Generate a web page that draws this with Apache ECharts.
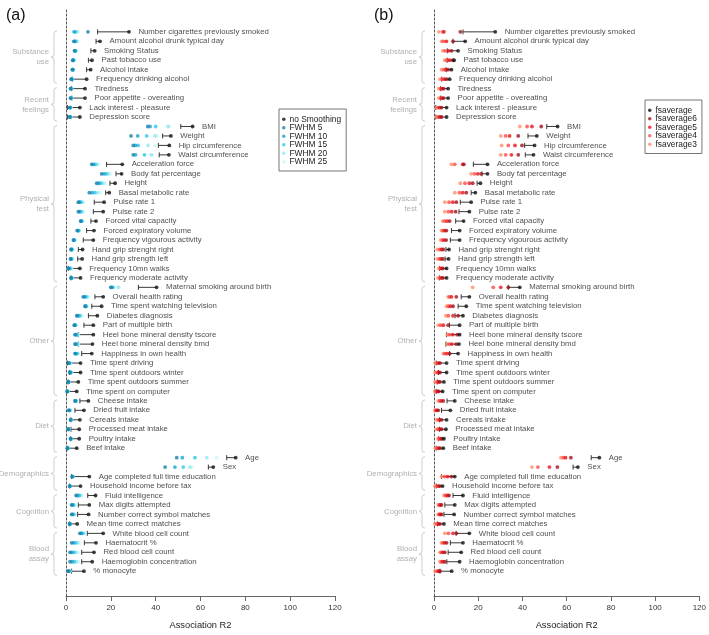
<!DOCTYPE html>
<html><head><meta charset="utf-8">
<script src="https://cdn.jsdelivr.net/npm/echarts@6/dist/echarts.min.js"></script>
<style>html,body{margin:0;padding:0;background:#fff}#c{width:709px;height:635px}</style>
</head><body><div id="c"></div>
<script>
const rowNames = [
'Number cigarettes previously smoked','Amount alcohol drunk typical day','Smoking Status','Past tobacco use','Alcohol intake','Frequency drinking alcohol',
'Tiredness','Poor appetite - overeating','Lack interest - pleasure','Depression score',
'BMI','Weight','Hip circumference','Waist circumference','Acceleration force','Body fat percentage','Height','Basal metabolic rate','Pulse rate 1','Pulse rate 2','Forced vital capacity','Forced expiratory volume','Frequency vigourous activity','Hand grip strenght right','Hand grip strength left','Frequency 10mn walks','Frequency moderate activity',
'Maternal smoking around birth','Overall health rating','Time spent watching television','Diabetes diagnosis','Part of multiple birth','Heel bone mineral density tscore','Heel bone mineral density bmd','Happiness in own health','Time spent driving','Time spent outdoors winter','Time spent outdoors summer','Time spent on computer',
'Cheese intake','Dried fruit intake','Cereals intake','Processed meat intake','Poultry intake','Beef intake',
'Age','Sex','Age completed full time education','Household income before tax',
'Fluid intelligence','Max digits attempted','Number correct symbol matches','Mean time correct matches',
'White blood cell count','Haematocrit %','Red blood cell count','Haemoglobin concentration','% monocyte'];

const groupNames = ['Substance\nuse','Recent\nfeelings','Physical\ntest','Other','Diet','Demographics','Cognition','Blood\nassay'];
const groupSizes = [6,4,17,12,6,4,4,5];

const xTicks = [0,20,40,60,80,100,120];

// Panel (a)
const noSmoothing = [28.1,15.2,12.8,11.6,11.0,9.2,8.5,8.5,6.2,6.2,
 56.5,46.8,46.1,45.9,25.1,24.8,21.9,19.3,17.0,16.6,13.4,12.5,12.2,7.4,7.2,6.2,6.5,
 40.4,16.6,15.9,14.0,12.2,12.2,11.8,11.5,6.5,6.5,5.5,4.8,
 10.0,8.0,6.2,5.9,5.9,4.8,
 75.7,65.7,10.4,6.5,
 13.2,10.4,10.1,5.0,
 16.6,13.4,12.5,11.7,8.0];
const errLowA = [14.1,13.4,11.1,10.0,9.2,2.8,2.5,2.6,0.6,0.6,
 51.2,43.1,41.2,41.6,18.1,22.3,19.6,17.7,12.6,12.2,11.1,9.2,7.7,5.5,5.2,1.0,2.2,
 32.3,12.9,11.5,10.0,8.0,5.5,5.5,7.0,0.6,1.5,1.0,0.4,
 6.2,4.0,2.2,2.2,2.0,0.6,
 71.7,63.5,2.5,1.5,
 9.7,5.5,5.2,1.5,
 9.5,8.2,7.0,7.0,2.5];
const fwhm5 = [9.8,3.5,3.8,3.0,2.8,2.3,2.0,2.0,1.6,1.6,
 36.5,29.0,30.0,30.0,11.5,15.9,13.7,10.4,5.5,5.5,6.5,5.0,3.3,2.2,2.0,1.0,2.2,
 20.0,7.7,8.5,4.8,3.7,4.0,4.0,4.0,1.2,1.7,1.0,0.5,
 4.0,1.2,2.0,1.0,2.0,0.6,
 49.4,44.2,2.7,1.6,
 4.5,2.5,2.5,1.6,
 6.2,2.5,1.8,1.8,1.0];
const fwhm10 = [3.6,3.9,4.0,3.2,3.0,2.5,2.2,2.2,1.8,1.8,
 37.5,32.0,31.0,31.0,12.2,17.0,14.6,11.6,6.0,6.0,6.8,5.3,3.5,2.4,2.2,1.4,2.4,
 20.4,8.3,8.7,5.3,3.9,4.4,4.4,4.4,1.4,1.9,1.1,0.6,
 4.2,1.4,2.1,1.1,2.1,0.7,
 51.9,48.6,2.9,1.7,
 5.2,2.9,2.9,1.7,
 6.8,3.4,2.6,2.7,1.2];
const fwhm15 = [4.2,4.3,4.2,3.3,3.1,2.6,2.3,2.3,1.9,1.9,
 40.0,36.0,32.2,35.0,13.0,18.0,15.5,12.8,6.6,6.6,7.0,5.6,3.7,2.6,2.4,1.8,2.5,
 21.0,8.9,8.9,6.0,4.1,4.8,4.8,4.8,1.6,2.1,1.2,0.7,
 4.4,1.6,2.2,1.2,2.2,0.8,
 57.5,52.3,3.0,1.8,
 5.9,3.3,3.3,1.8,
 7.4,4.3,3.5,3.7,1.4];
const fwhm20 = [4.8,4.7,4.4,3.5,3.2,2.7,2.4,2.4,2.0,2.0,
 45.5,39.7,36.6,38.0,13.8,18.9,16.5,14.0,7.2,7.2,7.2,5.8,3.9,2.8,2.6,2.2,2.6,
 23.3,9.5,9.1,6.5,4.3,5.2,5.2,5.2,1.8,2.3,1.3,0.8,
 4.6,1.8,2.3,1.3,2.3,0.9,
 62.8,55.3,3.1,1.9,
 6.5,3.7,3.7,1.9,
 8.0,5.2,4.4,4.7,1.6];
const fwhm25 = [5.4,5.0,4.6,3.6,3.3,2.8,2.5,2.5,2.1,2.1,
 46.0,40.5,39.7,38.5,14.4,19.6,17.4,15.2,7.7,7.7,7.3,6.0,4.0,3.0,2.8,2.5,2.7,
 23.5,10.0,9.3,7.0,4.5,5.5,5.5,5.5,2.0,2.5,1.4,0.9,
 4.8,2.0,2.4,1.4,2.4,1.0,
 67.2,56.0,3.2,2.0,
 7.0,4.0,4.0,2.0,
 8.5,5.9,5.2,5.6,1.8];

// Panel (b)
const fsaverage = [27.7,14.1,10.9,9.1,7.9,7.1,6.4,6.4,5.7,5.7,
 55.9,46.5,45.5,45.0,24.2,24.2,21.0,18.7,16.8,16.0,13.4,11.6,11.6,6.8,6.6,5.7,5.7,
 38.8,16.0,14.6,13.1,11.6,11.6,11.3,10.9,5.7,5.7,4.5,3.9,
 9.4,7.4,5.7,5.4,4.5,4.2,
 74.8,65.1,9.4,3.9,
 13.1,9.4,9.1,4.5,
 16.0,13.1,12.3,11.6,8.0];
const errLowB = [13.1,8.6,6.0,6.0,5.5,3.5,3.0,3.0,0.8,0.8,
 51.0,42.5,41.0,41.3,17.8,21.7,19.5,16.8,11.9,11.3,9.8,7.9,7.4,5.4,5.0,2.5,2.5,
 33.6,12.3,10.9,9.5,7.0,5.7,5.4,7.0,1.0,2.0,1.5,1.0,
 5.9,3.4,2.5,2.5,2.0,1.0,
 71.1,62.9,3.4,1.0,
 8.6,4.9,4.5,1.5,
 10.0,7.4,6.4,5.8,2.7];
const fsaverage6 = [11.9,8.6,7.9,8.5,6.4,5.7,4.3,4.3,3.4,3.4,
 48.5,38.1,39.8,38.1,13.5,21.3,17.5,14.6,10.1,9.8,7.1,5.6,5.5,4.2,4.0,4.0,4.0,
 33.6,10.1,8.6,10.9,6.4,10.5,10.0,7.1,2.7,2.7,2.7,2.2,
 4.2,1.9,3.4,3.4,3.7,2.7,
 61.9,55.8,7.9,2.7,
 6.8,3.4,3.4,2.7,
 10.1,5.7,4.9,4.9,2.7];
const fsaverage5 = [4.5,5.6,6.5,7.0,5.4,4.7,3.6,3.6,2.6,2.6,
 44.3,34.2,36.6,35.0,13.0,19.8,16.0,13.0,8.5,8.0,5.9,4.8,4.5,3.4,3.2,3.4,3.3,
 30.2,7.9,7.4,8.6,4.2,8.5,8.0,5.8,2.0,2.0,2.0,1.6,
 3.3,1.3,2.6,2.6,3.0,2.0,
 59.5,52.2,6.2,2.0,
 6.0,2.8,2.8,2.0,
 8.6,4.8,4.0,4.0,2.0];
const fsaverage4 = [4.0,4.2,5.0,5.8,4.4,3.7,2.9,2.9,1.9,1.9,
 42.1,32.4,33.6,32.4,9.4,18.3,14.0,11.5,6.8,6.5,4.8,4.0,3.8,2.6,2.5,2.8,2.6,
 26.8,7.0,6.5,6.5,3.0,7.0,6.8,4.8,1.4,1.4,1.4,1.0,
 2.5,0.8,1.9,1.9,2.3,1.3,
 58.5,47.0,4.8,1.3,
 5.2,2.3,2.3,1.3,
 6.5,4.0,3.3,3.3,1.4];
const fsaverage3 = [2.2,3.4,4.0,4.9,3.4,2.7,2.2,2.2,1.2,1.2,
 38.8,30.2,30.6,30.2,7.9,16.8,11.9,9.4,4.9,4.9,3.9,3.4,3.0,1.5,1.5,2.2,1.8,
 17.5,6.4,5.7,5.4,1.9,6.0,6.0,4.2,0.5,0.5,0.5,0.4,
 1.9,0.4,1.2,1.2,1.8,0.6,
 57.4,44.3,3.4,0.4,
 4.5,1.9,1.9,0.4,
 4.9,3.4,2.7,2.7,0.5];

// ---------- build ----------
const FONT = 'Liberation Sans, Arial, sans-serif';
const LABEL_PX = 7.8;
const groupRanges = [];
{ let s = 0; groupSizes.forEach((n,i)=>{ groupRanges.push([s, s+n-1, i]); s += n; }); }

function pts(arr){ return arr.map((v,i)=>[v,i]); }

function makePanel(idx, blackName, blackVals, lows, colSeries) {
  const series = [];
  series.push({
    type:'custom', xAxisIndex:idx, yAxisIndex:idx, silent:true, clip:false, z:1,
    data: groupRanges,
    renderItem(params, api){
      const a = api.coord([0, api.value(0) - 0.1]);
      const b = api.coord([0, api.value(1) + 0.45]);
      const bx = a[0] - 12, y0 = a[1], y1 = b[1], ym = (y0+y1)/2;
      const d = `M${bx+3} ${y0} Q${bx} ${y0} ${bx} ${y0+3} L${bx} ${ym-3} Q${bx} ${ym} ${bx-3} ${ym} Q${bx} ${ym} ${bx} ${ym+3} L${bx} ${y1-3} Q${bx} ${y1} ${bx+3} ${y1}`;
      return {type:'group', children:[
        {type:'path', shape:{pathData:d}, style:{stroke:'#cccccc', fill:null, lineWidth:1}},
        {type:'text', style:{text: groupNames[api.value(2)], x: bx-5, y: ym, align:'right', verticalAlign:'middle',
          fill:'#b0b0b0', font:LABEL_PX+'px '+FONT, lineHeight:10}}
      ]};
    }
  });
  series.push({
    type:'custom', xAxisIndex:idx, yAxisIndex:idx, silent:true, z:2,
    data: blackVals.map((v,i)=>[i, lows[i], v]),
    renderItem(params, api){
      const p1 = api.coord([api.value(1), api.value(0)]);
      const p2 = api.coord([api.value(2), api.value(0)]);
      return {type:'group', children:[
        {type:'line', shape:{x1:p1[0], y1:p1[1], x2:p2[0], y2:p2[1]}, style:{stroke:'#222', lineWidth:0.9}},
        {type:'line', shape:{x1:p1[0], y1:p1[1]-2.5, x2:p1[0], y2:p1[1]+2.5}, style:{stroke:'#222', lineWidth:0.9}}
      ]};
    }
  });
  colSeries.slice().reverse().forEach((s,k)=>{
    series.push({type:'scatter', name:s.name, xAxisIndex:idx, yAxisIndex:idx, symbol:'circle', symbolSize:3.8,
      itemStyle:{color:s.color}, data:pts(s.data), z:3+k, silent:true});
  });
  series.push({type:'scatter', name:blackName, xAxisIndex:idx, yAxisIndex:idx, symbol:'circle', symbolSize:3.8,
    itemStyle:{color:'#111'}, data:pts(blackVals), z:10, silent:true,
    label:{show:true, position:'right', distance:7.5, color:'#222', fontSize:LABEL_PX, fontFamily:FONT,
      formatter:(p)=>rowNames[p.data[1]]}});
  return series;
}

const colsA = [
  {name:'FWHM 5', color:'#1d7fa6', data:fwhm5},
  {name:'FWHM 10', color:'#17a2d6', data:fwhm10},
  {name:'FWHM 15', color:'#2ec8ea', data:fwhm15},
  {name:'FWHM 20', color:'#92e9f3', data:fwhm20},
  {name:'FWHM 25', color:'#c9f6f9', data:fwhm25}
];
const colsB = [
  {name:'fsaverage6', color:'#a3111b', data:fsaverage6},
  {name:'fsaverage5', color:'#e8151e', data:fsaverage5},
  {name:'fsaverage4', color:'#ff4b4b', data:fsaverage4},
  {name:'fsaverage3', color:'#ff9166', data:fsaverage3}
];

const gridTop = 10, gridBottom = 35;
const yMin = -2.31, yMax = 59.62;

function xAx(i){
  return {type:'value', gridIndex:i, min:xTicks[0], max:xTicks[xTicks.length-1], interval:xTicks[1]-xTicks[0],
    splitLine:{show:false},
    axisLine:{show:true, onZero:false, lineStyle:{color:'#666', width:1}},
    axisTick:{show:true, length:5, lineStyle:{color:'#666'}},
    axisLabel:{color:'#333', fontSize:8, fontFamily:FONT, margin:8},
    name:'Association R2', nameLocation:'middle', nameGap:25,
    nameTextStyle:{color:'#222', fontSize:9.3, fontFamily:FONT}};
}
function yAx(i){
  return {type:'value', gridIndex:i, inverse:true, min:yMin, max:yMax,
    axisLine:{show:true, onZero:false, lineStyle:{color:'#555', type:[2,2], width:1}},
    axisTick:{show:false}, axisLabel:{show:false}, splitLine:{show:false}};
}

const legendCommon = {orient:'vertical', icon:'circle', itemWidth:3.5, itemHeight:3.5, itemGap:0,
  backgroundColor:'#fff', borderColor:'#777', borderWidth:1, padding:[6,5,5,3],
  textStyle:{fontSize:8.4, fontFamily:FONT, color:'#222', lineHeight:8.5, padding:[0,0,0,-1]}, selectedMode:false};

const option = {
  animation:false,
  backgroundColor:'#fff',
  title:[
    {text:'(a)', left:1, top:3, textStyle:{fontSize:16, fontWeight:'normal', color:'#111', fontFamily:FONT}},
    {text:'(b)', left:369, top:3, textStyle:{fontSize:16, fontWeight:'normal', color:'#111', fontFamily:FONT}}
  ],
  grid:[
    {left:66, right:709-335, top:gridTop, bottom:gridBottom},
    {left:434, right:6, top:gridTop, bottom:gridBottom}
  ],
  xAxis:[xAx(0), xAx(1)],
  yAxis:[yAx(0), yAx(1)],
  legend:[
    Object.assign({}, legendCommon, {left:279, top:109, data:['no Smoothing','FWHM 5','FWHM 10','FWHM 15','FWHM 20','FWHM 25']}),
    Object.assign({}, legendCommon, {left:645, top:100, data:['fsaverage','fsaverage6','fsaverage5','fsaverage4','fsaverage3']})
  ],
  series: makePanel(0,'no Smoothing',noSmoothing,errLowA,colsA).concat(makePanel(1,'fsaverage',fsaverage,errLowB,colsB))
};
const chart = echarts.init(document.getElementById('c'), null, {renderer:'canvas'});
chart.setOption(option);
</script></body></html>
